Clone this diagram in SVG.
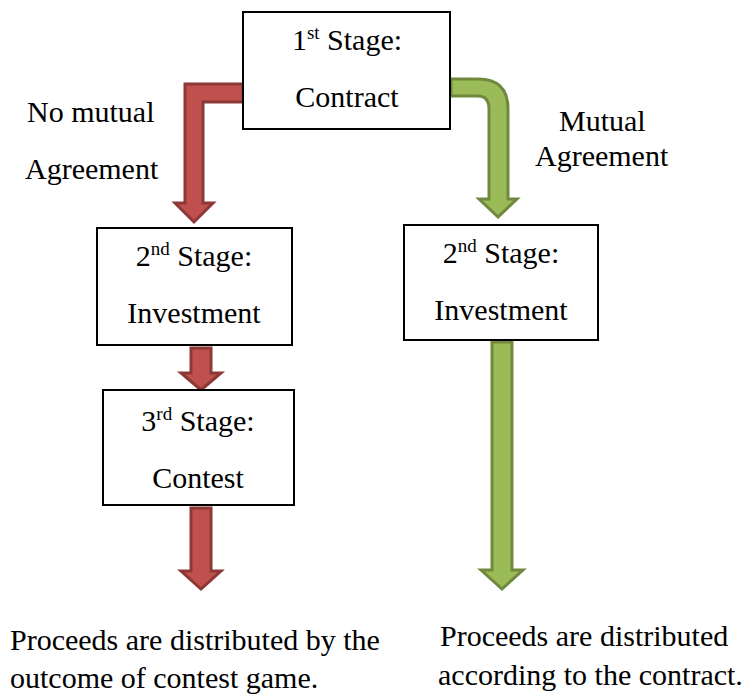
<svg xmlns="http://www.w3.org/2000/svg" width="745" height="694" viewBox="0 0 745 694">
<style>
text{font-family:'Liberation Serif',Tinos,'Times New Roman',Times,'DejaVu Serif',serif;font-size:30px;fill:#000}
.c{text-anchor:middle}
.sup{font-size:19px}
.box{fill:#fff;stroke:#000;stroke-width:2}
.red{fill:#C0504D;stroke:#8C3836;stroke-width:3;stroke-linejoin:miter}
.green{fill:#9BBB59;stroke:#71893F;stroke-width:3;stroke-linejoin:miter}
</style>
<rect width="745" height="694" fill="#fff"/>
<g id="connectors">
<path class="red" d="M243,84 L185,84 L185,203 L175,203 L194,222 L213,203 L203,203 L203,102 L243,102 Z"/>
<path class="green" d="M451,79 L478,79 Q508,79 508,109 L508,199 L517,199 L498,217 L479,199 L489,199 L489,109 Q489,96 478,96 L451,96 Z"/>
<path class="red" d="M191,348 L211,348 L211,373 L221,373 L201,390 L181,373 L191,373 Z"/>
<path class="red" d="M191,508 L211,508 L211,571 L221,571 L201,589 L181,571 L191,571 Z"/>
<path class="green" d="M492,342 L512,342 L512,570 L523,570 L502,589 L481,570 L492,570 Z"/>
</g>
<g id="stage1">
<rect class="box" x="243" y="12" width="207" height="117"/>
<text class="c" x="347" y="50">1<tspan class="sup" dy="-11">st</tspan><tspan dy="11"> Stage:</tspan></text>
<text class="c" x="347" y="107">Contract</text>
</g>
<g id="stage2-left">
<rect class="box" x="97" y="228" width="195" height="117"/>
<text class="c" x="194" y="266">2<tspan class="sup" dy="-11">nd</tspan><tspan dy="11"> Stage:</tspan></text>
<text class="c" x="194" y="323">Investment</text>
</g>
<g id="stage3">
<rect class="box" x="103" y="390" width="191" height="115"/>
<text class="c" x="198" y="431">3<tspan class="sup" dy="-11">rd</tspan><tspan dy="11"> Stage:</tspan></text>
<text class="c" x="198" y="488">Contest</text>
</g>
<g id="stage2-right">
<rect class="box" x="404" y="225" width="194" height="115"/>
<text class="c" x="501" y="263">2<tspan class="sup" dy="-11">nd</tspan><tspan dy="11"> Stage:</tspan></text>
<text class="c" x="501" y="320">Investment</text>
</g>
<g id="label-no-mutual">
<text x="27" y="122">No mutual</text>
<text x="25" y="179">Agreement</text>
</g>
<g id="label-mutual">
<text x="559" y="131">Mutual</text>
<text x="535" y="166">Agreement</text>
</g>
<g id="outcome-left">
<text x="10" y="650">Proceeds are distributed by the</text>
<text x="10" y="688">outcome of contest game.</text>
</g>
<g id="outcome-right">
<text x="440" y="646">Proceeds are distributed</text>
<text x="438" y="685">according to the contract.</text>
</g>
</svg>
